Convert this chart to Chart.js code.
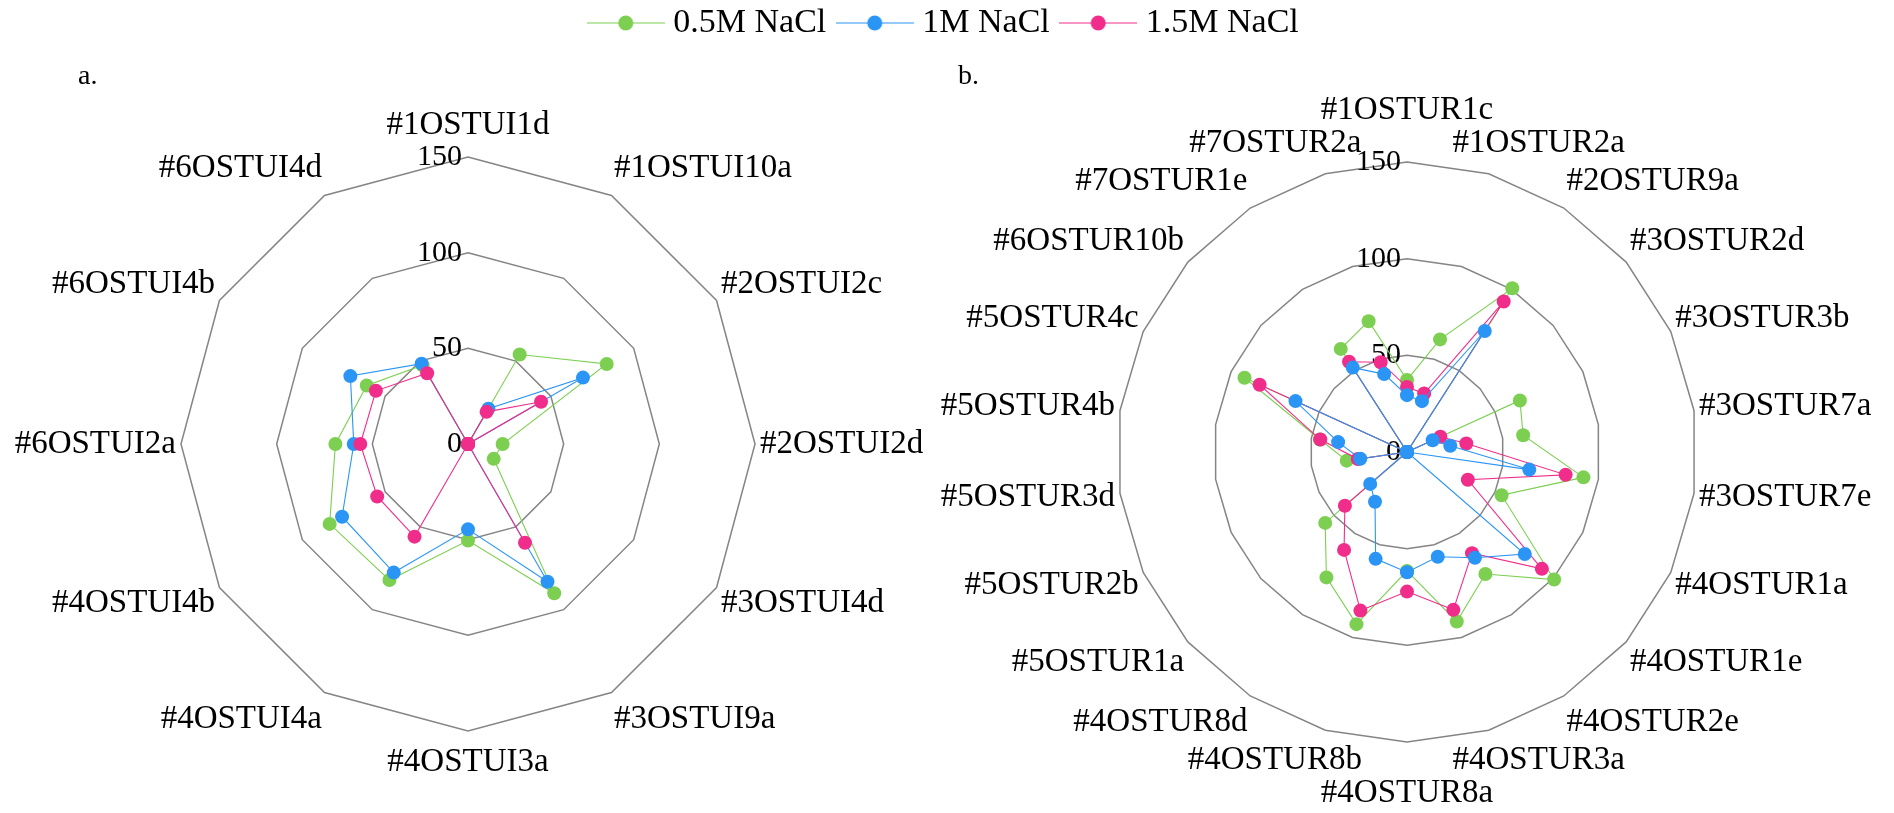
<!DOCTYPE html>
<html>
<head>
<meta charset="utf-8">
<title>NaCl tolerance radar charts</title>
<script src="https://cdn.jsdelivr.net/npm/chart.js@4.4.1/dist/chart.umd.min.js"></script>
<style>
  html, body { margin: 0; padding: 0; background: #fff; width: 1894px; height: 813px; overflow: hidden; }
  body { position: relative; }
  canvas { position: absolute; }
  #chartA { left: 0; top: 0; }
  #chartB { left: 900px; top: 0; }
  #legendCanvas { left: 0; top: -12px; }
</style>
</head>
<body>
<canvas id="chartA" width="947" height="813"></canvas>
<canvas id="chartB" width="994" height="813"></canvas>
<canvas id="legendCanvas" width="1894" height="160"></canvas>
<script>
// ---- data ----
const seriesNames = ['0.5M NaCl', '1M NaCl', '1.5M NaCl'];
const ringTicks = [0, 50, 100, 150];

// panel a: OSTUI isolates
const labelsA = ['#1OSTUI1d', '#1OSTUI10a', '#2OSTUI2c', '#2OSTUI2d', '#3OSTUI4d', '#3OSTUI9a',
                 '#4OSTUI3a', '#4OSTUI4a', '#4OSTUI4b', '#6OSTUI2a', '#6OSTUI4b', '#6OSTUI4d'];
const naclLowA  = [0, 54.0, 83.7, 18.1, 15.5, 90.1, 50.5, 82.1, 83.5, 69.3, 61.1, 47.5];
const naclMidA  = [0, 21.3, 69.4, 0, 0, 83.1, 44.6, 77.6, 76.0, 59.7, 71.0, 48.5];
const naclHighA = [0, 19.4, 44.1, 0, 0, 59.6, 0, 55.9, 54.8, 56.3, 55.6, 42.7];

// panel b: OSTUR isolates
const labelsB = ['#1OSTUR1c', '#1OSTUR2a', '#2OSTUR9a', '#3OSTUR2d', '#3OSTUR3b', '#3OSTUR7a',
                 '#3OSTUR7e', '#4OSTUR1a', '#4OSTUR1e', '#4OSTUR2e', '#4OSTUR3a', '#4OSTUR8a',
                 '#4OSTUR8b', '#4OSTUR8d', '#5OSTUR1a', '#5OSTUR2b', '#5OSTUR3d', '#5OSTUR4b',
                 '#5OSTUR4c', '#6OSTUR10b', '#7OSTUR1e', '#7OSTUR2a'];
const naclLowB  = [37.3, 60.7, 100.7, 0, 64.2, 60.7, 92.2, 53.8, 100.7, 75.0, 91.4, 61.5,
                   92.8, 77.1, 56.0, 0, 31.5, 45.5, 92.4, 0, 63.4, 70.5];
const naclMidB  = [29.4, 27.4, 74.4, 0, 14.6, 22.6, 63.9, 0, 80.6, 65.0, 56.5, 62.2,
                   57.6, 30.6, 25.2, 0, 24.4, 36.0, 63.4, 0, 51.9, 42.0];
const naclHighB = [33.6, 31.5, 92.5, 0, 19.0, 31.0, 82.9, 34.6, 92.3, 62.2, 85.1, 72.2,
                   85.5, 60.2, 42.5, 0, 25.7, 45.3, 83.8, 0, 55.5, 48.4];

// ---- styling ----
const seriesColors = ['#7ccf50', '#2a95f5', '#f02d8a'];
const serif = "'Liberation Serif', 'Times New Roman', serif";

// Draws the ring values, the category names round the polygon and the panel tag.
const radarText = {
  id: 'radarText',
  beforeDatasetsDraw(chart, args, opts) {
    const s = chart.scales.r;
    const ctx = chart.ctx;
    ctx.save();
    ctx.fillStyle = '#000';

    // ring values, right-aligned just left of the vertical axis
    ctx.font = opts.tickSize + 'px ' + serif;
    ctx.textAlign = 'right';
    ctx.textBaseline = 'middle';
    s.ticks.forEach(t => {
      const d = s.getDistanceFromCenterForValue(t.value);
      ctx.fillText(String(t.value), s.xCenter - 6, s.yCenter - d);
    });

    // category names placed just outside each outer vertex
    ctx.font = opts.labelSize + 'px ' + serif;
    const h = opts.labelSize;
    const boxes = chart.data.labels.map((txt, i) => {
      const a = s.getIndexAngle(i);
      const sn = Math.sin(a), cs = Math.cos(a);
      const v = s.getPointPosition(i, s.drawingArea);
      const w = ctx.measureText(txt).width;
      const side = Math.abs(sn) < 1e-6 ? 0 : Math.sign(sn);
      return {
        txt, w, sn, cs,
        cx: v.x + side * Math.min(1, 2 * Math.abs(sn)) * w / 2 + sn * 5,
        cy: v.y - cs * h * 0.95
      };
    });
    // names straight above / below the centre move outward until clear of neighbours
    boxes.forEach((b, i) => {
      if (Math.abs(b.sn) > 1e-6) return;
      const step = b.cs > 0 ? -1 : 1;
      for (let k = 0; k < 200; k++) {
        const hit = boxes.some((o, j) => j !== i &&
          Math.abs(o.cx - b.cx) < (o.w + b.w) / 2 && Math.abs(o.cy - b.cy) < h);
        if (!hit) break;
        b.cy += step;
      }
    });
    ctx.textAlign = 'center';
    boxes.forEach(b => ctx.fillText(b.txt, b.cx, b.cy));

    // panel tag
    ctx.font = opts.tagSize + 'px ' + serif;
    ctx.textAlign = 'left';
    ctx.textBaseline = 'alphabetic';
    ctx.fillText(opts.tag, opts.tagX, opts.tagY);
    ctx.restore();
  }
};

function radarConfig(labels, series, drawOrder, padding, tag, tagX) {
  return {
    type: 'radar',
    data: {
      labels: labels,
      datasets: series.map((d, k) => ({
        label: seriesNames[k],
        data: d,
        borderColor: seriesColors[k],
        backgroundColor: seriesColors[k],
        pointBackgroundColor: seriesColors[k],
        pointBorderWidth: 0,
        pointRadius: 7,
        borderWidth: 1.1,
        fill: false,
        order: drawOrder[k]
      }))
    },
    options: {
      responsive: false,
      animation: false,
      devicePixelRatio: 1,
      events: [],
      layout: { padding: padding },
      plugins: {
        legend: { display: false },
        tooltip: { enabled: false },
        radarText: { tickSize: 30, labelSize: 33, tagSize: 28, tag: tag, tagX: tagX, tagY: 84 }
      },
      scales: {
        r: {
          min: 0,
          max: 150,
          afterBuildTicks: scale => { scale.ticks = ringTicks.map(v => ({ value: v })); },
          ticks: { display: false, stepSize: 50 },
          pointLabels: { display: false },
          angleLines: { display: false },
          grid: { color: '#858585', lineWidth: 1.5 }
        }
      }
    },
    plugins: [radarText]
  };
}

new Chart(document.getElementById('chartA'),
  radarConfig(labelsA, [naclLowA, naclMidA, naclHighA], [2, 1, 0],
              { left: 181, right: 192, top: 157, bottom: 82 }, 'a.', 78));

new Chart(document.getElementById('chartB'),
  radarConfig(labelsB, [naclLowB, naclMidB, naclHighB], [2, 0, 1],
              { left: 217, right: 197, top: 162, bottom: 71 }, 'b.', 58));

// legend symbol: short line with a dot in the middle
function legendGlyph(color) {
  const c = document.createElement('canvas');
  c.width = 78; c.height = 16;
  const g = c.getContext('2d');
  g.globalAlpha = 0.5;
  g.strokeStyle = color;
  g.lineWidth = 2;
  g.beginPath(); g.moveTo(0, 8); g.lineTo(78, 8); g.stroke();
  g.globalAlpha = 1;
  g.fillStyle = color;
  g.beginPath(); g.arc(39, 8, 7.5, 0, Math.PI * 2); g.fill();
  return c;
}

new Chart(document.getElementById('legendCanvas'), {
  type: 'line',
  data: {
    labels: [],
    datasets: seriesNames.map((name, k) => ({
      label: name, data: [],
      borderColor: seriesColors[k], backgroundColor: seriesColors[k],
      pointStyle: legendGlyph(seriesColors[k])
    }))
  },
  options: {
    responsive: false,
    animation: false,
    devicePixelRatio: 1,
    events: [],
    scales: { x: { display: false }, y: { display: false } },
    plugins: {
      tooltip: { enabled: false },
      legend: {
        display: true,
        position: 'top',
        align: 'center',
        labels: {
          usePointStyle: true,
          pointStyleWidth: 61,
          padding: 18,
          color: '#000',
          font: { family: serif, size: 34 },
          generateLabels: chart => chart.data.datasets.map((ds, i) => ({
            text: ds.label, pointStyle: ds.pointStyle, fillStyle: ds.backgroundColor,
            strokeStyle: ds.borderColor, lineWidth: 0, hidden: false, datasetIndex: i,
            fontColor: '#000'
          }))
        }
      }
    }
  }
});
</script>
</body>
</html>
